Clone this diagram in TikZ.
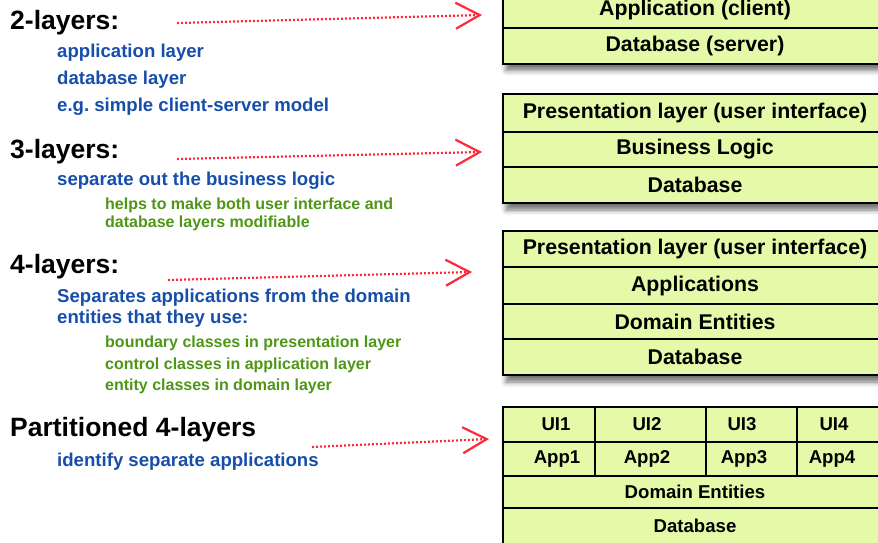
\documentclass[tikz,border=0pt]{standalone}
\usepackage{fontspec}
\setmainfont{Liberation Sans}
\usetikzlibrary{arrows.meta,shadows.blur}
\frenchspacing
\definecolor{boxfill}{RGB}{229,250,168}
\definecolor{txtblue}{RGB}{22,78,170}
\definecolor{txtgreen}{RGB}{78,150,22}
\definecolor{arrred}{RGB}{255,40,56}
\tikzset{
  head/.style={anchor=base west, inner sep=0pt, font=\bfseries\fontsize{26.5}{26.5}\selectfont, text=black},
  bluetxt/.style={anchor=base west, inner sep=0pt, font=\bfseries\fontsize{18.6}{18.6}\selectfont, text=txtblue},
  greentxt/.style={anchor=base west, inner sep=0pt, font=\bfseries\fontsize{16}{16}\selectfont, text=txtgreen},
  boxshape/.style={draw, line width=2pt, fill=boxfill, anchor=north west, inner sep=0pt, outer sep=0pt,
    blur shadow={shadow xshift=3pt, shadow yshift=-7pt, shadow blur radius=5pt, shadow opacity=55}},
  layerrow/.style={draw, line width=2pt, fill=boxfill, anchor=north west, inner sep=0pt, outer sep=0pt,
    minimum width=384pt, font=\bfseries\fontsize{21.3}{21.3}\selectfont},
  smallrow/.style={layerrow, font=\bfseries\fontsize{18.6}{18.6}\selectfont},
  celltxt/.style={inner sep=0pt, font=\bfseries\fontsize{18.6}{18.6}\selectfont},
  cellbox/.style={draw, line width=2pt, fill=boxfill},
  redarrow/.style={draw=arrred, line width=2.2pt, dash pattern=on 2pt off 2pt,
    -{Straight Barb[length=24pt, width=26pt, line width=2.2pt]}}
}
\begin{document}
\begin{tikzpicture}[x=1pt,y=-1pt]
\useasboundingbox (0,0) rectangle (878,542);
\clip (0,0) rectangle (878,542);

% ---------- left texts ----------
\node[head] (h2) at (10,29) {2-layers:};
\node[bluetxt] (t2a) at (57,57.5) {application layer};
\node[bluetxt] (t2b) at (57,84.5) {database layer};
\node[bluetxt] (t2c) at (57,111.5) {e.g. simple client-server model};

\node[head] (h3) at (10,158) {3-layers:};
\node[bluetxt] (t3a) at (57,185) {separate out the business logic};
\node[greentxt] (t3b) at (105,209) {helps to make both user interface and};
\node[greentxt] (t3c) at (105,227) {database layers modifiable};

\node[head] (h4) at (10,273) {4-layers:};
\node[bluetxt] (t4a) at (57,302) {Separates applications from the domain};
\node[bluetxt] (t4b) at (57,323.5) {entities that they use:};
\node[greentxt] (t4c) at (105,347) {boundary classes in presentation layer};
\node[greentxt] (t4d) at (105,369) {control classes in application layer};
\node[greentxt] (t4e) at (105,390) {entity classes in domain layer};

\node[head] (hp) at (10,436) {Partitioned 4-layers};
\node[bluetxt] (tpa) at (57,466) {identify separate applications};

% ---------- box 1 ----------
\node[boxshape, minimum width=384pt, minimum height=72pt] (b1) at (503,-8.5) {};
\node[layerrow, minimum height=36pt] (b1r1) at (503,-8.5) {Application (client)};
\node[layerrow, minimum height=36pt] (b1r2) at (503,27.5) {Database (server)};

% ---------- box 2 ----------
\node[boxshape, minimum width=384pt, minimum height=109pt] (b2) at (503,94) {};
\node[layerrow, minimum height=38pt] (b2r1) at (503,94) {Presentation layer (user interface)};
\node[layerrow, minimum height=35pt] (b2r2) at (503,132) {Business Logic};
\node[layerrow, minimum height=36pt] (b2r3) at (503,167) {Database};

% ---------- box 3 ----------
\node[boxshape, minimum width=384pt, minimum height=144pt] (b3) at (503,231) {};
\node[layerrow, minimum height=36pt] (b3r1) at (503,231) {Presentation layer (user interface)};
\node[layerrow, minimum height=37pt] (b3r2) at (503,267) {Applications};
\node[layerrow, minimum height=35pt] (b3r3) at (503,304) {Domain Entities};
\node[layerrow, minimum height=36pt] (b3r4) at (503,339) {Database};

% ---------- box 4 (partitioned) ----------
\node[boxshape, minimum width=384pt, minimum height=140pt] (b4) at (503,407) {};
\draw[cellbox] (503,407) rectangle (595,442);
\draw[cellbox] (595,407) rectangle (706,442);
\draw[cellbox] (706,407) rectangle (797,442);
\draw[cellbox] (797,407) rectangle (887,442);
\draw[cellbox] (503,442) rectangle (595,476);
\draw[cellbox] (595,442) rectangle (706,476);
\draw[cellbox] (706,442) rectangle (797,476);
\draw[cellbox] (797,442) rectangle (887,476);
\node[celltxt] (ui1) at (556,424.5) {UI1};
\node[celltxt] (ui2) at (647,424.5) {UI2};
\node[celltxt] (ui3) at (742,424.5) {UI3};
\node[celltxt] (ui4) at (834,424.5) {UI4};
\node[celltxt] (ap1) at (557,459) {App1};
\node[celltxt] (ap2) at (647,459) {App2};
\node[celltxt] (ap3) at (744,459) {App3};
\node[celltxt] (ap4) at (832,459) {App4};
\node[smallrow, minimum height=32pt] (b4r3) at (503,476) {Domain Entities};
\node[smallrow, minimum height=36pt] (b4r4) at (503,508) {Database};

% ---------- arrows ----------
\coordinate (a1s) at (177,23);
\coordinate (a1e) at (482,15);
\coordinate (a2s) at (177,159);
\coordinate (a2e) at (482,152);
\coordinate (a3s) at (168,280);
\coordinate (a3e) at (472,272);
\coordinate (a4s) at (312,447);
\coordinate (a4e) at (489,439);
\draw[redarrow] (a1s) -- (a1e);
\draw[redarrow] (a2s) -- (a2e);
\draw[redarrow] (a3s) -- (a3e);
\draw[redarrow] (a4s) -- (a4e);
\end{tikzpicture}
\end{document}
